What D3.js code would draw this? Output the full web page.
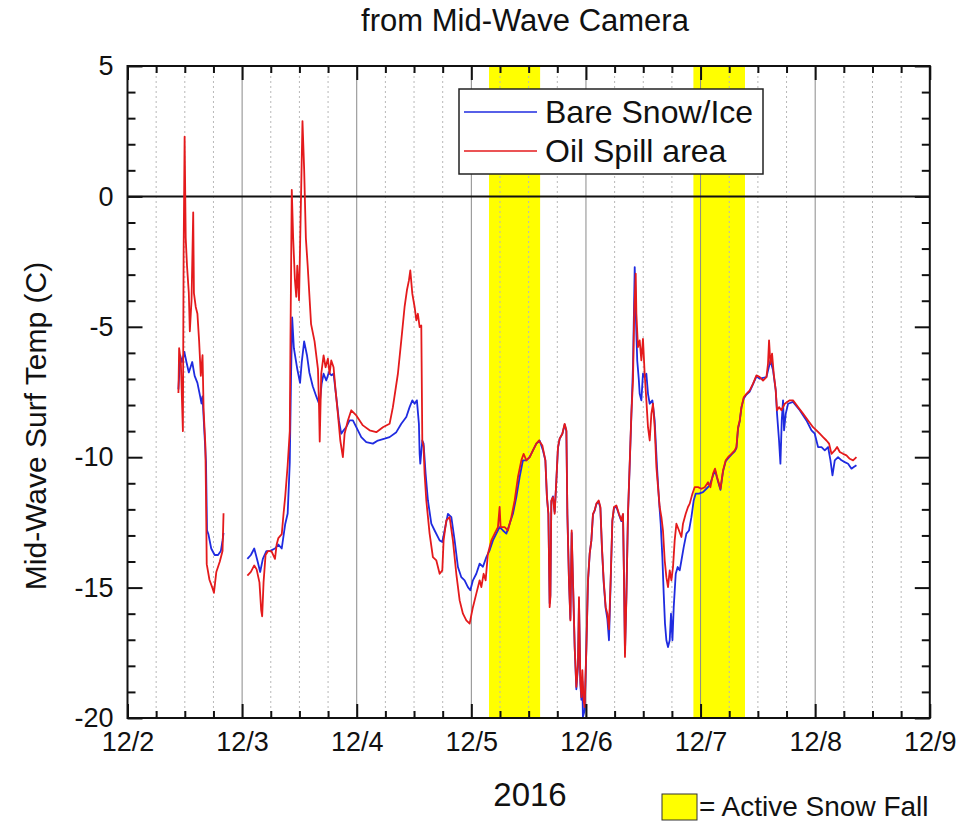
<!DOCTYPE html>
<html>
<head>
<meta charset="utf-8">
<script src="https://cdn.jsdelivr.net/npm/d3@7"></script>
<style>
  body { margin: 0; background: #fff; }
  text { font-family: Arial, "Liberation Sans", sans-serif; fill: #111; }
</style>
</head>
<body>
<script>
// hours after 12/2/2016 00:00, temperatures in C (null = no data)
var bareHours = [10.66,11.04,11.40,11.90,12.34,12.84,13.55,14.06,14.64,15.21,15.50,15.71,16.09,16.44,16.65,16.95,17.53,18.25,18.96,19.54,19.90,20.11,
  22.5,
  25.10,25.83,26.54,27.25,27.78,28.34,29.08,29.79,30.88,31.59,32.30,33.03,33.54,33.98,34.25,34.48,34.84,35.55,36.13,36.49,36.99,37.58,38.08,38.79,39.53,40.22,40.64,41.06,
  41.62,42.17,42.67,43.15,43.72,44.26,44.76,45.25,45.81,46.50,47.20,47.91,48.95,50.00,51.38,52.43,53.84,54.88,56.29,57.33,58.38,59.07,59.64,60.12,60.60,61.02,61.17,61.31,61.73,62.00,62.42,62.91,63.62,64.31,65.36,65.92,66.40,67.10,67.81,68.50,69.19,69.90,70.59,71.28,71.79,72.33,73.04,73.74,
  74.43,75.14,75.83,76.52,77.23,77.92,78.62,79.33,80.02,80.71,81.42,82.11,82.80,83.52,84.21,84.90,85.61,86.30,87.00,87.50,
  87.83,88.13,88.40,88.55,88.75,89.09,89.45,89.80,90.14,90.49,91.06,91.54,91.90,92.11,92.44,92.74,93.01,93.28,93.64,93.99,94.33,94.54,94.83,95.04,95.25,95.36,95.73,96.09,96.42,96.78,97.13,97.47,97.82,98.18,98.66,99.02,99.35,99.71,100.13,100.48,100.82,101.17,101.53,101.87,102.37,102.91,103.42,103.76,103.97,104.17,104.47,104.80,105.16,105.51,105.85,106.21,106.48,106.74,107.06,
  107.25,107.60,107.94,108.29,108.65,108.99,109.35,109.91,110.39,110.88,111.30,111.65,112.00,112.28,112.55,112.84,113.18,113.54,113.81,114.11,114.38,114.80,115.21,115.63,115.99,116.47,117.03,117.58,118.08,118.56,118.98,119.67,120.51,121.22,121.91,
  122.61,123.03,123.45,124.16,124.70,125.27,125.75,126.46,127.15,127.51,127.85,128.20,128.56,129.04,129.60,130.30,130.99,131.70,132.39,133.79,134.63,135.18,135.74,136.01,136.43,136.72,137.00,137.27,137.48,137.84,138.32,139.36,140.77,142.17,143.22,143.91,144.60,145.32,146.01,146.70,147.20,147.62,148.10,148.79,149.51,150.20,150.89,151.60,152.08,152.64];
var bareTemp = [-7.4,-6.1,-6.35,-5.96,-6.35,-6.75,-6.35,-6.88,-7.15,-7.67,-7.94,-7.67,-9.0,-10.2,-12.8,-12.96,-13.5,-13.75,-13.75,-13.6,-13.2,-12.9,
  null,
  -13.9,-13.75,-13.5,-14.0,-14.4,-13.9,-13.6,-13.6,-13.5,-13.35,-13.5,-12.56,-12.16,-10.2,-6.88,-4.64,-5.82,-6.62,-7.15,-6.35,-5.56,-6.09,-6.75,-7.28,-7.67,-8.0,-7.2,-6.8,
  -7.06,-6.74,-6.86,-6.8,-7.7,-8.59,-9.1,-8.97,-8.85,-8.59,-8.59,-8.85,-9.23,-9.42,-9.48,-9.36,-9.29,-9.23,-9.04,-8.72,-8.46,-8.08,-7.82,-7.95,-7.82,-8.72,-9.87,-10.25,-9.36,-9.48,-10.63,-11.66,-12.55,-12.81,-13.19,-13.25,-12.81,-12.17,-12.3,-13.19,-14.21,-14.6,-14.72,-14.98,-15.1,-14.72,-14.47,-14.08,
  -14.2,-13.83,-13.57,-13.19,-12.93,-12.68,-12.81,-12.93,-12.55,-12.17,-11.53,-10.76,-10.12,-10.12,-10.0,-9.74,-9.48,-9.36,-9.74,-10.12,
  -11.53,-12.17,-15.6,-15.3,-11.7,-11.5,-12.1,-10.9,-9.65,-9.3,-9.1,-8.75,-9.0,-12.2,-14.7,-16.2,-12.9,-14.8,-17.3,-18.9,-18.0,-15.5,-18.7,-19.3,-18.6,-19.96,-19.7,-17.3,-14.8,-13.7,-13.2,-12.2,-12.05,-11.8,-11.7,-11.95,-13.5,-14.8,-15.8,-16.2,-17.02,-14.8,-12.45,-11.95,-11.9,-12.2,-12.45,-12.2,-14.7,-17.5,-15.3,-12.2,-10.3,-8.4,-6.5,-2.71,-4.8,-6.3,-7.0,
  -7.57,-7.82,-6.8,-6.93,-6.8,-7.57,-7.95,-7.82,-8.59,-10.38,-11.66,-12.55,-13.83,-15.23,-16.38,-17.02,-17.28,-17.02,-16.0,-17.02,-15.75,-14.47,-14.21,-14.34,-13.96,-13.45,-12.93,-12.81,-12.3,-11.66,-11.4,-11.4,-11.34,-11.21,-11.08,
  -10.7,-10.5,-10.8,-11.25,-10.55,-10.15,-10.05,-9.9,-9.78,-9.65,-8.9,-8.62,-8.1,-7.75,-7.6,-7.48,-7.2,-6.9,-6.99,-6.93,-6.29,-6.67,-7.44,-8.33,-9.36,-10.25,-8.59,-7.82,-8.97,-8.33,-7.95,-7.88,-8.2,-8.59,-8.97,-9.1,-9.61,-9.61,-9.74,-9.61,-10.12,-10.7,-10.12,-10.0,-10.12,-10.19,-10.25,-10.44,-10.38,-10.31];

var oilHours = [10.66,10.81,11.17,11.60,11.75,11.96,12.19,12.46,12.84,13.05,13.41,13.76,13.91,14.29,14.64,15.00,15.35,15.71,15.94,16.30,16.44,16.59,17.16,17.89,18.10,18.60,19.33,19.90,20.11,
  22.5,
  25.10,25.83,26.54,27.04,27.63,27.99,28.20,28.49,28.91,29.43,30.14,30.88,31.23,31.59,32.30,32.68,33.03,33.54,33.98,34.12,34.25,34.40,34.69,35.05,35.34,35.55,35.92,36.28,36.64,36.99,37.35,37.73,38.44,39.17,39.88,40.10,40.25,40.57,
  41.06,41.48,41.96,42.31,42.67,43.15,43.57,44.05,44.56,45.10,45.46,46.15,46.86,47.91,49.29,50.69,52.10,53.48,54.88,55.57,56.62,57.33,58.02,58.51,58.93,59.22,59.64,60.12,60.48,60.81,61.17,61.52,61.73,62.00,62.21,62.57,63.26,63.95,64.67,65.36,65.92,66.19,66.76,67.45,68.14,68.85,69.55,70.24,70.95,71.64,72.33,73.04,73.74,
  74.09,74.57,74.99,75.47,76.19,76.88,77.57,77.92,78.13,78.97,79.66,80.38,81.07,81.76,82.47,82.95,83.52,84.21,84.90,85.61,86.16,86.87,87.50,
  87.83,88.13,88.40,88.55,88.75,89.09,89.45,89.80,90.14,90.49,91.06,91.54,91.90,92.11,92.44,92.74,93.01,93.28,93.64,93.99,94.33,94.54,94.83,95.04,95.25,95.52,95.73,96.09,96.42,96.78,97.13,97.47,97.82,98.18,98.66,99.02,99.35,99.71,100.13,100.48,100.82,101.17,101.53,101.87,102.37,102.91,103.42,103.76,103.97,104.17,104.47,104.80,105.16,105.51,105.85,106.10,106.42,106.56,106.89,
  107.25,107.60,107.94,108.29,108.65,108.99,109.35,109.70,110.04,110.39,110.75,111.09,111.44,111.80,112.13,112.49,112.84,113.18,113.54,113.89,114.23,114.58,114.94,115.48,115.99,116.32,116.89,117.37,117.73,118.29,118.77,119.47,120.18,120.87,121.56,122.06,
  122.61,123.03,123.45,124.16,124.70,125.27,125.75,126.46,127.15,127.51,127.85,128.20,128.56,129.04,129.60,130.30,130.99,131.70,132.39,133.08,133.79,134.12,134.34,134.63,134.97,135.32,135.74,136.01,136.43,136.93,137.62,138.67,139.36,140.41,141.46,142.51,143.55,144.27,144.96,145.65,146.36,146.91,147.41,148.10,148.59,149.15,149.84,150.55,151.24,151.93,152.64];
var oilTemp = [-7.54,-5.82,-6.35,-9.0,-2.26,2.29,-1.6,-2.66,-3.71,-5.17,-3.98,-0.61,-3.71,-4.24,-4.5,-5.56,-6.88,-6.09,-8.2,-9.52,-11.5,-14.1,-14.7,-15.07,-15.2,-14.4,-14.0,-13.6,-12.15,
  null,
  -14.54,-14.4,-14.15,-14.3,-14.8,-15.86,-16.1,-14.8,-13.75,-13.6,-13.6,-13.9,-13.35,-13.1,-12.95,-12.16,-11.5,-10.3,-9.0,-5.56,-2.92,0.25,-1.6,-3.18,-3.85,-2.66,-3.98,-0.54,2.89,1.04,-1.6,-2.66,-4.9,-5.56,-6.62,-8.0,-9.4,-6.8,
  -6.1,-6.55,-6.22,-6.8,-6.29,-6.55,-7.44,-8.33,-9.36,-10.0,-9.1,-8.59,-8.2,-8.4,-8.78,-8.97,-9.04,-8.85,-8.72,-8.08,-6.8,-5.52,-4.24,-3.6,-3.22,-2.84,-3.73,-4.24,-4.75,-4.5,-5.01,-4.95,-9.36,-9.61,-10.63,-11.66,-12.93,-13.83,-13.96,-14.47,-14.34,-13.19,-12.42,-12.3,-13.19,-14.47,-15.49,-16.0,-16.26,-16.38,-15.75,-15.23,-14.72,
  -14.98,-14.47,-14.72,-13.7,-13.19,-12.93,-12.68,-11.91,-12.68,-12.68,-12.81,-12.3,-11.66,-10.76,-10.12,-9.87,-10.12,-10.0,-9.74,-9.48,-9.36,-9.55,-10.12,
  -11.53,-12.17,-15.75,-15.37,-11.66,-11.53,-12.17,-10.89,-9.61,-9.29,-9.1,-8.72,-8.97,-12.17,-14.72,-16.26,-12.81,-14.72,-17.28,-18.81,-17.92,-15.37,-18.56,-19.2,-18.17,-19.33,-19.58,-17.28,-14.72,-13.7,-13.19,-12.17,-12.04,-11.78,-11.66,-11.91,-13.45,-14.72,-15.75,-16.0,-16.6,-14.72,-12.42,-11.91,-11.85,-12.17,-12.42,-12.17,-14.72,-17.66,-15.37,-12.17,-10.25,-8.33,-7.06,-4.5,-2.96,-4.5,-5.78,
  -5.52,-6.29,-5.46,-6.8,-7.82,-8.85,-9.36,-8.33,-7.95,-8.85,-10.38,-11.15,-11.91,-12.3,-12.81,-13.96,-14.6,-14.98,-14.34,-14.72,-14.21,-13.19,-12.55,-12.81,-13.06,-12.55,-12.17,-11.91,-11.78,-11.4,-11.15,-11.15,-11.21,-11.15,-10.96,-11.15,
  -10.63,-10.44,-10.76,-11.21,-10.51,-10.12,-10.0,-9.87,-9.74,-9.61,-8.85,-8.59,-8.08,-7.7,-7.57,-7.44,-7.18,-6.86,-6.93,-7.06,-6.93,-6.42,-5.52,-6.42,-6.03,-6.8,-7.44,-8.2,-8.08,-8.2,-7.95,-7.82,-7.82,-8.08,-8.33,-8.59,-8.85,-8.97,-9.1,-9.23,-9.36,-9.48,-9.87,-9.74,-9.61,-9.8,-9.87,-9.93,-10.06,-10.12,-10.0];

// periods of active snow fall, hours after 12/2 00:00
var snowStart = [75.7, 118.5];
var snowEnd = [86.4, 129.3];

var seriesNames = ["Bare Snow/Ice", "Oil Spill area"];
var seriesColors = ["#1f2be0", "#e41a1c"];

var width = 965, height = 825;
var plotLeft = 127.5, plotRight = 929.8, plotTop = 66, plotBottom = 718;
var t0 = new Date(2016, 11, 2);
var t1 = new Date(2016, 11, 9);
function toDate(h) { return new Date(t0.getTime() + h * 3600000); }

var x = d3.scaleTime()
          .domain([t0, t1])
          .range([plotLeft, plotRight]);
var y = d3.scaleLinear()
          .domain([-20, 5])
          .range([plotBottom, plotTop]);

var svg = d3.select("body").append("svg")
            .attr("width", width)
            .attr("height", height)
            .style("background", "#fff");

// snow fall bands
svg.selectAll(".snow")
   .data(snowStart)
   .enter()
     .append("rect")
     .attr("class", "snow")
     .attr("x", function(d){ return x(toDate(d)); })
     .attr("width", function(d, i){ return x(toDate(snowEnd[i])) - x(toDate(d)); })
     .attr("y", plotTop)
     .attr("height", plotBottom - plotTop)
     .attr("fill", "#ffff00");

// vertical grid: dotted every 6 h, solid every day
var sixHours = d3.timeHour.every(6).range(t0, t1).filter(function(d){ return d.getHours() != 0; });
var days = d3.timeDay.range(d3.timeDay.offset(t0, 1), t1);
svg.selectAll(".minorGrid")
   .data(sixHours)
   .enter()
     .append("line")
     .attr("x1", function(d){ return x(d); })
     .attr("x2", function(d){ return x(d); })
     .attr("y1", plotTop).attr("y2", plotBottom)
     .attr("stroke", "#b8b8b8")
     .attr("stroke-width", 1)
     .attr("stroke-dasharray", "2,3");
svg.selectAll(".majorGrid")
   .data(days)
   .enter()
     .append("line")
     .attr("x1", function(d){ return x(d); })
     .attr("x2", function(d){ return x(d); })
     .attr("y1", plotTop).attr("y2", plotBottom)
     .attr("stroke", "#8a8a8a")
     .attr("stroke-width", 1);

// zero line
svg.append("line")
   .attr("x1", plotLeft).attr("x2", plotRight)
   .attr("y1", y(0)).attr("y2", y(0))
   .attr("stroke", "#111")
   .attr("stroke-width", 2);

// the two series
var line = d3.line()
             .defined(function(d){ return d.v != null; })
             .x(function(d){ return x(toDate(d.h)); })
             .y(function(d){ return y(d.v); });
var bare = bareHours.map(function(h, i){ return {h: h, v: bareTemp[i]}; });
var oil = oilHours.map(function(h, i){ return {h: h, v: oilTemp[i]}; });
[bare, oil].forEach(function(s, i){
  svg.append("path")
     .datum(s)
     .attr("d", line)
     .attr("fill", "none")
     .attr("stroke", seriesColors[i])
     .attr("stroke-width", 1.8)
     .attr("stroke-linejoin", "round");
});

// axes, ticks pointing inward
function styleAxis(g) {
  g.select(".domain").remove();
  g.selectAll(".tick line").attr("stroke", "#111").attr("stroke-width", 2);
  g.selectAll(".tick text").style("font-size", "27px").attr("fill", "#111");
}
var tickFmt = function(d){ return (d.getMonth() + 1) + "/" + d.getDate(); };
svg.append("g").attr("transform", "translate(0," + plotBottom + ")")
   .call(d3.axisBottom(x).tickValues(sixHours).tickSize(-7).tickFormat(""))
   .call(styleAxis);
svg.append("g").attr("transform", "translate(0," + plotBottom + ")")
   .call(d3.axisBottom(x).ticks(d3.timeDay.every(1)).tickSize(-14).tickPadding(14).tickFormat(tickFmt))
   .call(styleAxis);
svg.append("g").attr("transform", "translate(0," + plotTop + ")")
   .call(d3.axisTop(x).tickValues(sixHours).tickSize(-7).tickFormat(""))
   .call(styleAxis);
svg.append("g").attr("transform", "translate(0," + plotTop + ")")
   .call(d3.axisTop(x).ticks(d3.timeDay.every(1)).tickSize(-14).tickFormat(""))
   .call(styleAxis);

var minorY = d3.range(-19, 5).filter(function(d){ return d % 5 != 0; });
var majorY = [-20, -15, -10, -5, 0, 5];
svg.append("g").attr("transform", "translate(" + plotLeft + ",0)")
   .call(d3.axisLeft(y).tickValues(minorY).tickSize(-8).tickFormat(""))
   .call(styleAxis);
svg.append("g").attr("transform", "translate(" + plotLeft + ",0)")
   .call(d3.axisLeft(y).tickValues(majorY).tickSize(-15).tickPadding(14)
           .tickFormat(function(d){ return String(d); }))
   .call(styleAxis);
svg.append("g").attr("transform", "translate(" + plotRight + ",0)")
   .call(d3.axisRight(y).tickValues(minorY).tickSize(-8).tickFormat(""))
   .call(styleAxis);
svg.append("g").attr("transform", "translate(" + plotRight + ",0)")
   .call(d3.axisRight(y).tickValues(majorY).tickSize(-15).tickFormat(""))
   .call(styleAxis);

// frame
svg.append("rect")
   .attr("x", plotLeft).attr("y", plotTop)
   .attr("width", plotRight - plotLeft).attr("height", plotBottom - plotTop)
   .attr("fill", "none")
   .attr("stroke", "#111")
   .attr("stroke-width", 2);

// legend
var legend = svg.append("g").attr("transform", "translate(459,89)");
legend.append("rect")
      .attr("width", 304).attr("height", 85)
      .attr("fill", "#fff")
      .attr("stroke", "#222")
      .attr("stroke-width", 1.5);
legend.selectAll(".item")
      .data(seriesNames)
      .enter()
        .append("line")
        .attr("x1", 5).attr("x2", 78)
        .attr("y1", function(d, i){ return 23 + i * 39; })
        .attr("y2", function(d, i){ return 23 + i * 39; })
        .attr("stroke", function(d, i){ return seriesColors[i]; })
        .attr("stroke-width", 1.3);
legend.selectAll(".label")
      .data(seriesNames)
      .enter()
        .append("text")
        .attr("x", 86)
        .attr("y", function(d, i){ return 34 + i * 39; })
        .style("font-size", "32px")
        .text(function(d){ return d; });

// titles
svg.append("text")
   .attr("x", 525).attr("y", 31)
   .style("text-anchor", "middle")
   .style("font-size", "31px")
   .text("from Mid-Wave Camera");
svg.append("text")
   .attr("transform", "translate(46,426) rotate(-90)")
   .style("text-anchor", "middle")
   .style("font-size", "30px")
   .text("Mid-Wave Surf Temp (C)");
svg.append("text")
   .attr("x", 530).attr("y", 806)
   .style("text-anchor", "middle")
   .style("font-size", "33px")
   .text("2016");

// snow fall key
svg.append("rect")
   .attr("x", 662).attr("y", 794)
   .attr("width", 35).attr("height", 26)
   .attr("fill", "#ffff00")
   .attr("stroke", "#333")
   .attr("stroke-width", 1);
svg.append("text")
   .attr("x", 699).attr("y", 816)
   .style("font-size", "28px")
   .text("= Active Snow Fall");
</script>
</body>
</html>
